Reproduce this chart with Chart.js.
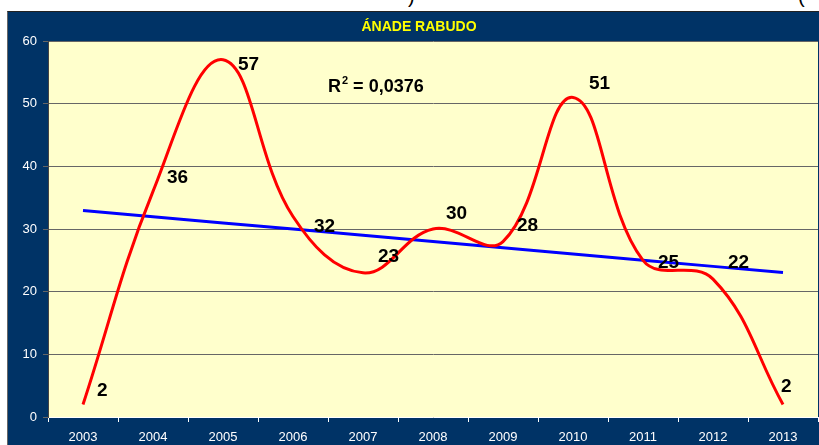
<!DOCTYPE html>
<html lang="es">
<head>
<meta charset="UTF-8">
<title>Ánade rabudo</title>
<script src="https://cdn.jsdelivr.net/npm/chart.js@4.4.1/dist/chart.umd.min.js"></script>
<style>
    html, body { margin: 0; padding: 0; background: #fff; }
    body { width: 819px; height: 445px; position: relative; overflow: hidden; font-family: "Liberation Sans", Arial, sans-serif; }
    .cut { position: absolute; top: -15px; font-size: 20px; color: #000; }
    .panel {
        position: absolute; left: 7px; top: 11px; width: 812px; height: 434px;
        background: #003366; border-left: 1px solid #666; border-top: 1px solid #222;
        box-sizing: border-box;
    }
    #chart { position: absolute; left: 0; top: 0; }
</style>
</head>
<body>

<!-- restos del titulo superior, recortado -->
<span class="cut" style="left:408px">)</span>
<span class="cut" style="left:798px">(</span>

<div class="panel">
    <canvas id="chart" width="812" height="434"></canvas>
</div>

<script>
    // datos
    const years = ['2003', '2004', '2005', '2006', '2007', '2008', '2009', '2010', '2011', '2012', '2013'];
    const counts = [2, 36, 57, 32, 23, 30, 28, 51, 25, 22, 2];
    const yTicks = [0, 10, 20, 30, 40, 50, 60];
    const chartTitle = 'ÁNADE RABUDO';
    const r2Text = '0,0376';

    // desplazamiento de cada etiqueta respecto a su punto (px)
    const labelOffsets = [[14, -14], [14, -14], [15, 5], [21, 10], [15, -16], [13, -15],
                          [14, -16], [16, -14], [15, 2], [15, -16], [-2, -18]];

    // linea de tendencia por minimos cuadrados
    const n = counts.length;
    const mx = (n - 1) / 2;
    const my = counts.reduce((a, b) => a + b, 0) / n;
    let sxy = 0, sxx = 0;
    counts.forEach((v, i) => { sxy += (i - mx) * (v - my); sxx += (i - mx) * (i - mx); });
    const slope = sxy / sxx;
    const trend = counts.map((v, i) => my + slope * (i - mx));

    const FONT = '"Liberation Sans", Arial, sans-serif';

    const plotBg = {
        id: 'plotBg',
        beforeDraw(chart) {
            const { ctx, chartArea: a } = chart;
            ctx.save();
            ctx.fillStyle = '#FFFFCC';
            ctx.fillRect(a.left, a.top, a.right - a.left, a.bottom - a.top);
            ctx.restore();
        }
    };

    const extras = {
        id: 'extras',
        afterDraw(chart) {
            const { ctx, chartArea: a } = chart;
            ctx.save();
            // titulo
            ctx.fillStyle = '#FFFF00';
            ctx.font = 'bold 14px ' + FONT;
            ctx.textAlign = 'center';
            ctx.textBaseline = 'middle';
            ctx.fillText(chartTitle, 411, 15);

            // etiquetas de datos
            const meta = chart.getDatasetMeta(0);
            ctx.fillStyle = '#000';
            ctx.font = 'bold 19px ' + FONT;
            ctx.textAlign = 'left';
            meta.data.forEach((pt, i) => {
                ctx.fillText(String(counts[i]), pt.x + labelOffsets[i][0], pt.y + labelOffsets[i][1]);
            });

            // R cuadrado
            const x0 = a.left + 280, y0 = a.top + 51;
            ctx.textBaseline = 'alphabetic';
            ctx.font = 'bold 18px ' + FONT;
            ctx.fillText('R', x0, y0);
            const wR = ctx.measureText('R').width;
            ctx.font = 'bold 11px ' + FONT;
            ctx.fillText('2', x0 + wR + 1, y0 - 8);
            const w2 = ctx.measureText('2').width;
            ctx.font = 'bold 18px ' + FONT;
            ctx.fillText(' = ' + r2Text, x0 + wR + w2 + 1, y0);
            ctx.restore();
        }
    };

    new Chart(document.getElementById('chart'), {
        type: 'line',
        data: {
            labels: years,
            datasets: [{
                label: 'Ánade rabudo',
                data: counts,
                borderColor: '#FF0000',
                borderWidth: 3,
                tension: 0.4,
                pointRadius: 0,
                fill: false
            }, {
                label: 'Tendencia',
                data: trend,
                borderColor: '#0000FF',
                borderWidth: 3,
                tension: 0,
                pointRadius: 0,
                fill: false
            }]
        },
        options: {
            responsive: false,
            animation: false,
            devicePixelRatio: 1,
            layout: { padding: { top: 29, right: 2, left: 0, bottom: 0 } },
            plugins: { legend: { display: false }, tooltip: { enabled: false } },
            scales: {
                x: {
                    offset: true,
                    grid: { display: true, drawOnChartArea: false, color: '#FFFFFF', tickLength: 5, offset: true },
                    border: { color: '#FFFFFF', width: 1 },
                    ticks: { color: '#FFFFFF', font: { family: FONT, size: 13 }, padding: 8, maxRotation: 0, autoSkip: false },
                    afterFit(s) { s.height = 29; }
                },
                y: {
                    min: 0,
                    max: 60,
                    afterBuildTicks(s) { s.ticks = yTicks.map(v => ({ value: v })); },
                    grid: { color: '#666666', lineWidth: 1, tickLength: 5 },
                    border: { color: '#444444', width: 1 },
                    ticks: { color: '#FFFFFF', font: { family: FONT, size: 13 }, padding: 6 },
                    afterFit(s) { s.width = 40; }
                }
            }
        },
        plugins: [plotBg, extras]
    });
</script>
</body>
</html>
